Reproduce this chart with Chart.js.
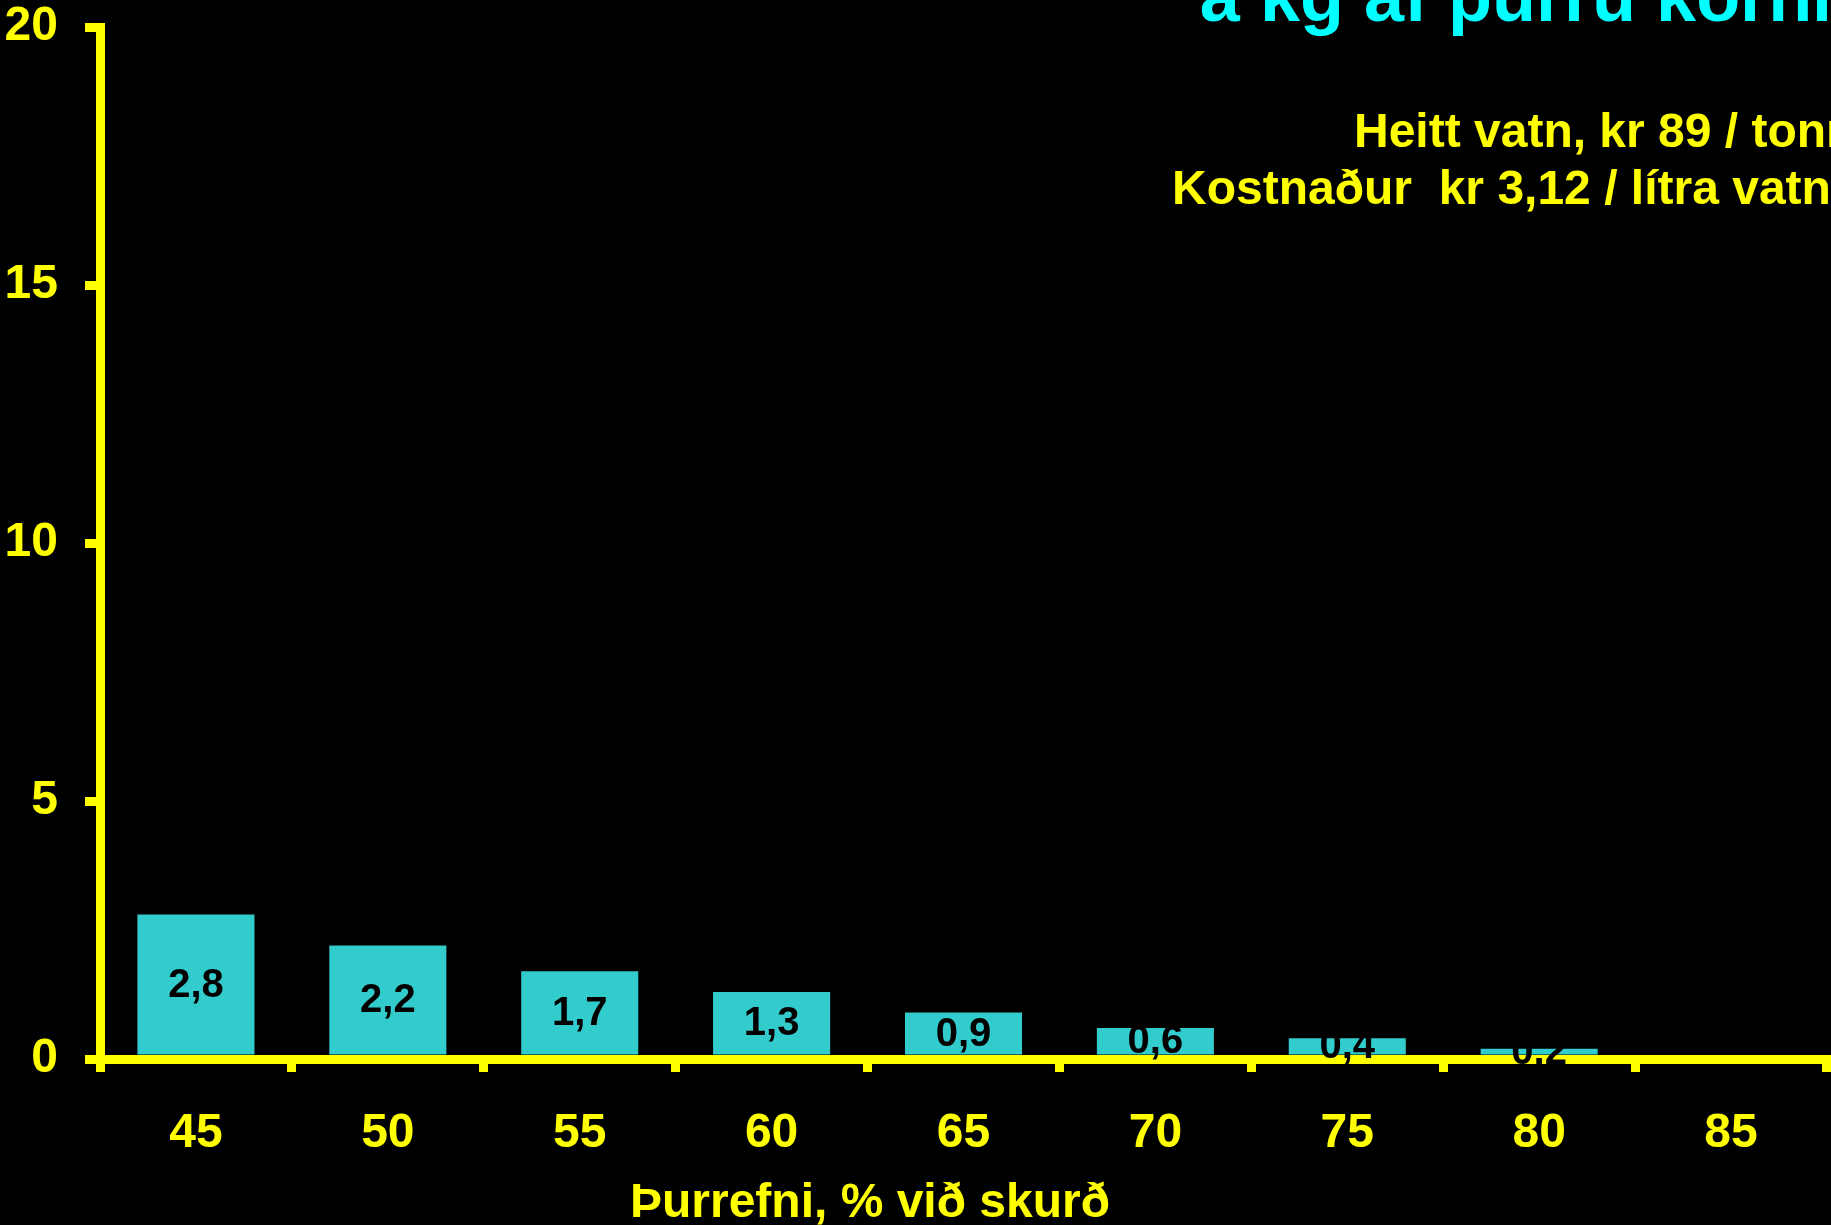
<!DOCTYPE html>
<html>
<head>
<meta charset="utf-8">
<script src="https://cdn.jsdelivr.net/npm/chart.js@4"></script>
<style>
  html, body { margin: 0; padding: 0; background: #000; }
  canvas { display: block; }
</style>
</head>
<body>
<canvas id="c" width="1831" height="1225"></canvas>
<script>
const categories = ['45', '50', '55', '60', '65', '70', '75', '80', '85'];
const values = [2.8, 2.2, 1.7, 1.3, 0.9, 0.6, 0.4, 0.2, null];
const yTickValues = [0, 5, 10, 15, 20];
const xAxisTitle = 'Þurrefni, % við skurð';
const titleText = 'á kg af þurru korni';
const noteLines = ['Heitt vatn, kr 89 / tonn', 'Kostnaður  kr 3,12 / lítra vatns'];

const FONT = '"Liberation Sans", Arial, sans-serif';
const YELLOW = '#FFFF00';

const textPlugin = {
  id: 'textPlugin',
  afterDraw(chart) {
    const ctx = chart.ctx;
    ctx.save();
    // bar value labels
    const meta = chart.getDatasetMeta(0);
    ctx.font = 'bold 40px ' + FONT;
    ctx.fillStyle = '#000';
    ctx.textAlign = 'center';
    ctx.textBaseline = 'middle';
    meta.data.forEach((bar, i) => {
      const v = values[i];
      if (v === null || v === undefined) return;
      const p = bar.getProps(['x', 'y', 'base'], true);
      ctx.fillText(v.toFixed(1).replace('.', ','), p.x, (p.y + p.base) / 2 + 1);
    });
    // title (partly outside the canvas)
    ctx.textAlign = 'left';
    ctx.textBaseline = 'alphabetic';
    ctx.font = 'bold 72px ' + FONT;
    ctx.fillStyle = '#00FFFF';
    ctx.fillText(titleText, 1200, 21);
    // notes
    ctx.font = 'bold 48px ' + FONT;
    ctx.fillStyle = YELLOW;
    ctx.fillText(noteLines[0], 1354, 147);
    ctx.fillText(noteLines[1], 1172, 204);
    // x axis title
    ctx.textAlign = 'center';
    ctx.fillText(xAxisTitle, 870, 1217);
    ctx.restore();
  }
};

new Chart(document.getElementById('c'), {
  type: 'bar',
  data: {
    labels: categories,
    datasets: [{
      data: values,
      backgroundColor: '#33CCCC',
      borderWidth: 0,
      barPercentage: 0.61,
      categoryPercentage: 1.0
    }]
  },
  options: {
    responsive: false,
    animation: false,
    devicePixelRatio: 1,
    layout: { padding: { top: 0, right: 4, left: 0, bottom: 0 } },
    plugins: { legend: { display: false }, tooltip: { enabled: false }, title: { display: false } },
    scales: {
      x: {
        type: 'category',
        offset: true,
        z: 1,
        grid: { offset: true, display: true, drawOnChartArea: false, drawTicks: true, tickLength: 13, lineWidth: 9, color: YELLOW },
        border: { display: true, color: YELLOW, width: 9 },
        ticks: {
          color: YELLOW,
          font: { family: FONT, size: 48, weight: 'bold', lineHeight: 1 },
          padding: 38,
          maxRotation: 0,
          autoSkip: false
        },
        afterFit(s) { s.height = 166; }
      },
      y: {
        min: 0,
        max: 20,
        z: 1,
        grid: { display: true, drawOnChartArea: false, drawTicks: true, tickLength: 15, lineWidth: 9, color: YELLOW },
        border: { display: true, color: YELLOW, width: 9 },
        ticks: {
          stepSize: 5,
          color: YELLOW,
          font: { family: FONT, size: 48, weight: 'bold', lineHeight: 1 },
          padding: 27
        },
        afterBuildTicks(s) { s.ticks = yTickValues.map(v => ({ value: v })); },
        afterFit(s) { s.width = 100; s.paddingTop = 27; }
      }
    }
  },
  plugins: [textPlugin]
});
</script>
</body>
</html>
